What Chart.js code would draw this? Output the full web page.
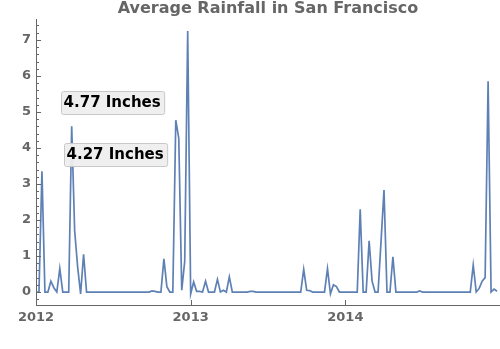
<!DOCTYPE html>
<html>
<head>
<meta charset="utf-8">
<script src="https://cdn.jsdelivr.net/npm/chart.js@4/dist/chart.umd.min.js"></script>
<style>
  html, body { margin: 0; padding: 0; background: #fff; }
  #wrap { width: 500px; height: 349px; }
</style>
</head>
<body>
<div id="wrap"><canvas id="rainChart" width="500" height="349"></canvas></div>
<script>
'use strict';

// weekly rainfall (inches), starting first week of 2012
// 13 weeks per row (one quarter)
var rainfall = [
  0, 0, 3.35, 0, 0, 0.3, 0.12, 0, 0.65, 0, 0, 0, 4.6,
  1.7, 0.7, -0.05, 1.05, 0, 0, 0, 0, 0, 0, 0, 0, 0,
  0, 0, 0, 0, 0, 0, 0, 0, 0, 0, 0, 0, 0,
  0.03, 0.02, 0, 0, 0.92, 0.15, 0, 0, 4.77, 4.27, 0.05, 0.85, 7.25,
  -0.05, 0.28, 0.02, 0.02, 0, 0.3, 0, 0, 0, 0.35, 0, 0.05, 0,
  0.42, 0, 0, 0, 0, 0, 0, 0.02, 0.02, 0, 0, 0, 0,
  0, 0, 0, 0, 0, 0, 0, 0, 0, 0, 0, 0, 0.63,
  0.05, 0.04, 0, 0, 0, 0, 0, 0.65, -0.05, 0.2, 0.15, 0, 0,
  0, 0, 0, 0, 0, 2.3, 0, 0, 1.42, 0.3, 0, 0, 1.4,
  2.83, 0, 0, 0.98, 0, 0, 0, 0, 0, 0, 0, 0, 0.03,
  0, 0, 0, 0, 0, 0, 0, 0, 0, 0, 0, 0, 0,
  0, 0, 0, 0, 0.75, 0, 0.1, 0.3, 0.4, 5.85, 0, 0.08, 0.02
];
var weeks = rainfall.map(function (v, i) { return i; });

// ticks
var tickWeeks = [0, 52, 104];
var tickYears = ['2012', '2013', '2014'];
var yTicks = [0, 1, 2, 3, 4, 5, 6, 7];

// callout labels
var calloutText = ['4.77 Inches', '4.27 Inches'];
var calloutWeek = [25.6, 26.6];
var calloutValue = [5.26, 3.83];

var grey = '#666666';
Chart.defaults.font.family = "'DejaVu Sans', sans-serif";

// ticks drawn inside the plot, plus the callout boxes
var extras = {
    id: 'extras',
    afterDraw: function (chart) {
        var ctx = chart.ctx;
        var area = chart.chartArea;
        var xs = chart.scales.x, ys = chart.scales.y;
        ctx.save();
        ctx.strokeStyle = grey;
        ctx.lineWidth = 1;
        ctx.beginPath();
        for (var k = -1; k <= 37; k++) {
            var py = Math.round(ys.getPixelForValue(k / 5)) + 0.5;
            if (py < area.top || py > area.bottom) continue;
            var len = (k % 5 === 0) ? 5 : 3;
            ctx.moveTo(area.left, py);
            ctx.lineTo(area.left + len, py);
        }
        tickWeeks.forEach(function (w) {
            var px = Math.round(xs.getPixelForValue(w)) + 0.5;
            ctx.moveTo(px, area.bottom);
            ctx.lineTo(px, area.bottom - 5);
        });
        ctx.stroke();

        ctx.font = 'bold 15px "DejaVu Sans"';
        ctx.textAlign = 'center';
        ctx.textBaseline = 'middle';
        calloutText.forEach(function (t, i) {
            var cx = xs.getPixelForValue(calloutWeek[i]);
            var cy = ys.getPixelForValue(calloutValue[i]);
            var w = ctx.measureText(t).width + 6;
            var h = 23;
            var bx = Math.round(cx - w / 2) + 0.5, by = Math.round(cy - h / 2) + 0.5;
            ctx.fillStyle = 'rgba(238,238,238,0.95)';
            ctx.strokeStyle = '#c8c8c8';
            ctx.beginPath();
            ctx.roundRect(bx, by, w, h, 2);
            ctx.fill();
            ctx.stroke();
            ctx.fillStyle = '#000';
            ctx.fillText(t, cx, cy + 1);
        });
        ctx.restore();
    }
};

var ctx = document.getElementById('rainChart').getContext('2d');
var rainChart = new Chart(ctx, {
    type: 'line',
    data: {
        datasets: [{
            data: weeks.map(function (w, i) { return { x: w, y: rainfall[i] }; }),
            borderColor: '#5e81b5',
            borderWidth: 1.7,
            pointRadius: 0,
            tension: 0,
            fill: false
        }]
    },
    options: {
        responsive: false,
        animation: false,
        devicePixelRatio: 1,
        layout: { padding: 0 },
        plugins: {
            legend: { display: false },
            tooltip: { enabled: false },
            title: {
                display: true,
                text: 'Average Rainfall in San Francisco',
                color: grey,
                fullSize: false,
                font: { size: 16, weight: 'bold', lineHeight: 1.125 },
                padding: { top: 0, bottom: 1 }
            }
        },
        scales: {
            x: {
                type: 'linear',
                min: 0,
                max: 156,
                grid: { display: false, drawTicks: false },
                border: { display: true, color: grey, width: 1 },
                afterBuildTicks: function (scale) {
                    scale.ticks = tickWeeks.map(function (v) { return { value: v }; });
                },
                afterFit: function (scale) { scale.height = 44; },
                ticks: {
                    color: grey,
                    padding: 5,
                    maxRotation: 0,
                    font: { size: 13, weight: 'bold' },
                    callback: function (value) {
                        return tickYears[tickWeeks.indexOf(value)];
                    }
                }
            },
            y: {
                min: -0.36,
                max: 7.58,
                grid: { display: false, drawTicks: false },
                border: { display: true, color: grey, width: 1 },
                afterBuildTicks: function (scale) {
                    scale.ticks = yTicks.map(function (v) { return { value: v }; });
                },
                afterFit: function (scale) { scale.width = 36; },
                ticks: {
                    color: grey,
                    padding: 5,
                    font: { size: 13, weight: 'bold' }
                }
            }
        }
    },
    plugins: [extras]
});
</script>
</body>
</html>
